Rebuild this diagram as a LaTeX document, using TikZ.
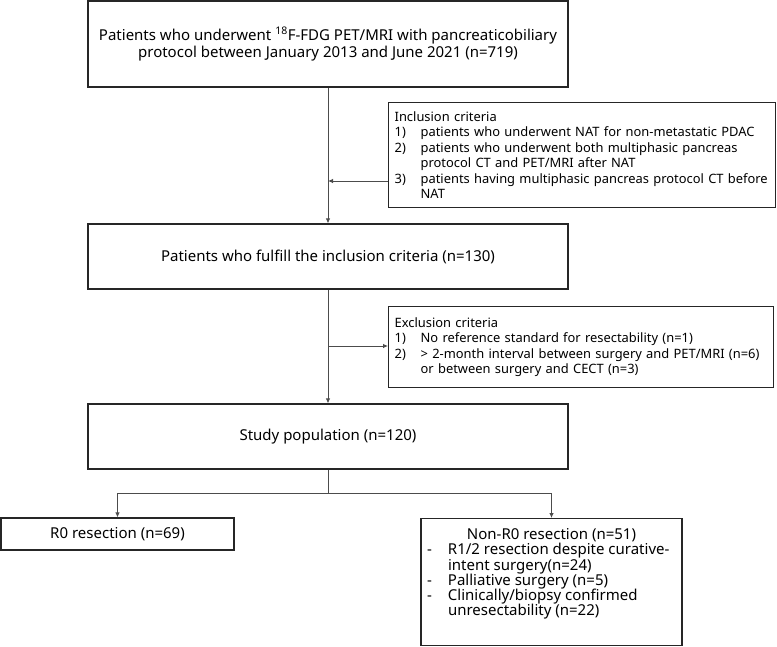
\documentclass[tikz,border=0pt]{standalone}
\usepackage{fontspec}
\setmainfont{Noto Sans}
\usetikzlibrary{arrows.meta}
\tikzset{
  box/.style={draw=black!85, line width=1.3pt, inner sep=0pt},
  bigtxt/.style={font=\fontsize{15}{17}\selectfont},
  crit/.style={font=\fontsize{12.9}{15.4}\selectfont, align=left, inner xsep=6pt},
  conn/.style={draw=black!70, line width=0.8pt},
  arr/.style={conn, -{Latex[length=5pt,width=4.5pt]}},
}
\newcommand{\nm}[1]{\makebox[26pt][l]{#1}}
\newcommand{\lnx}[1]{\mbox{#1}}
\newcommand{\dsh}{\hspace*{6pt}\makebox[21pt][l]{-}}
\begin{document}
\begin{tikzpicture}[x=1pt,y=-1pt]
\useasboundingbox (0,0) rectangle (777,646);
\node[box, bigtxt, minimum width=480pt, minimum height=86pt, align=center] (b1) at (328,44)
  {Patients who underwent \textsuperscript{18}F-FDG PET/MRI with pancreaticobiliary\\protocol between January 2013 and June 2021 (n=719)};
\node[box, crit, text width=375pt, minimum height=105pt, anchor=north west] (inc) at (388,102)
  {\lnx{Inclusion criteria}\\
   \lnx{\nm{1)}patients who underwent NAT for non-metastatic PDAC}\\
   \lnx{\nm{2)}patients who underwent both multiphasic pancreas}\\
   \lnx{\hspace*{26pt}protocol CT and PET/MRI after NAT}\\
   \lnx{\nm{3)}patients having multiphasic pancreas protocol CT before}\\
   \lnx{\hspace*{26pt}NAT}};
\node[box, bigtxt, minimum width=480pt, minimum height=65pt, align=center] (b2) at (328,256.5)
  {Patients who fulfill the inclusion criteria (n=130)};
\node[box, crit, text width=373pt, minimum height=81pt, anchor=north west] (exc) at (388,306)
  {\lnx{Exclusion criteria}\\
   \lnx{\nm{1)}No reference standard for resectability (n=1)}\\
   \lnx{\nm{2)}{>} 2-month interval between surgery and PET/MRI (n=6)}\\
   \lnx{\hspace*{26pt}or between surgery and CECT (n=3)}};
\node[box, bigtxt, minimum width=480pt, minimum height=65pt, align=center] (b3) at (328,436.5)
  {Study population (n=120)};
\node[box, bigtxt, minimum width=233pt, minimum height=32pt, align=center] (r0) at (117.5,534)
  {R0 resection (n=69)};
\node[box, anchor=north, font=\fontsize{15}{15.2}\selectfont] (nr0) at (551.5,518)
  {\parbox[c][127pt][t]{261pt}{\vspace{10pt}\centering Non-R0 resection (n=51)\par
   \raggedright
   \dsh R1/2 resection despite curative-\par
   \hspace*{27pt}intent surgery(n=24)\par
   \dsh Palliative surgery (n=5)\par
   \dsh Clinically/biopsy confirmed\par
   \hspace*{27pt}unresectability (n=22)\par}};
\coordinate (j1) at (328,181);
\coordinate (j2) at (328,346);
\coordinate (j3) at (328,493);
\draw[arr] (b1.south) -- (b2.north);
\draw[arr] (j1 -| inc.west) -- (j1);
\draw[arr] (b2.south) -- (b3.north);
\draw[arr] (j2) -- (j2 -| exc.west);
\draw[conn] (b3.south) -- (j3);
\draw[arr] (j3) -| (r0.north);
\draw[arr] (j3) -| (nr0.north);
\end{tikzpicture}
\end{document}
